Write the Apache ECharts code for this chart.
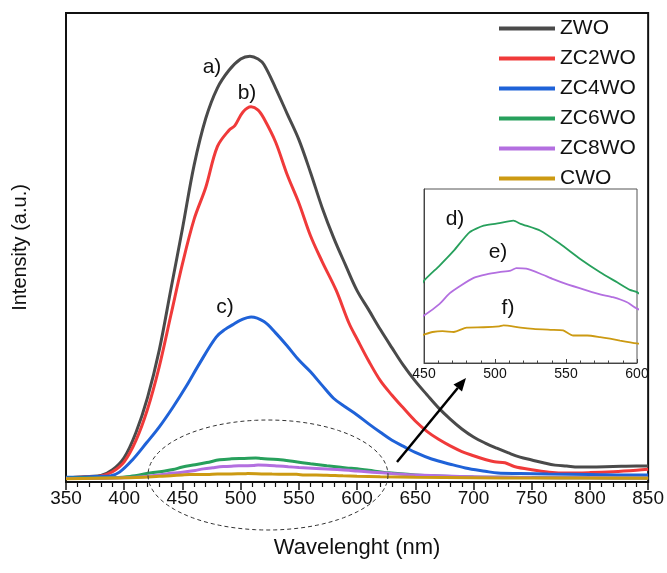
<!DOCTYPE html>
<html><head><meta charset="utf-8">
<script src="https://cdn.jsdelivr.net/npm/echarts@6/dist/echarts.min.js"></script>
<style>html,body{margin:0;padding:0;background:#fff}#c{width:667px;height:573px}</style>
</head><body><div id="c"></div>
<script>
// ---- data (wavelength nm, intensity a.u.) ----
const seriesNames = ['ZWO', 'ZC2WO', 'ZC4WO', 'ZC6WO', 'ZC8WO', 'CWO'];
const xTickValues = [350, 400, 450, 500, 550, 600, 650, 700, 750, 800, 850];
const insetTickValues = [450, 500, 550, 600];

const zwo = [[350,0.9],[360,1.0],[370,1.2],[380,1.4],[390,2.6],[400,5.2],[410,10.5],[420,18.0],[430,28.0],[440,41.0],[450,54.0],[460,67.5],[470,77.5],[480,84.0],[490,87.8],[500,90.2],[508,90.8],[515,90.2],[520,89.0],[530,84.0],[540,78.5],[550,73.0],[560,66.0],[570,58.5],[580,52.0],[590,46.3],[600,40.8],[610,36.7],[620,32.5],[630,28.6],[640,24.8],[650,21.5],[660,18.6],[670,15.8],[680,13.4],[690,11.3],[700,9.6],[710,8.3],[720,7.2],[730,6.2],[740,5.3],[750,4.7],[760,4.1],[770,3.6],[780,3.4],[790,3.2],[800,3.2],[820,3.3],[840,3.4],[850,3.4]];
const zc2wo = [[350,0.9],[360,1.0],[370,1.1],[380,1.3],[390,2.2],[400,4.3],[410,8.8],[420,15.5],[430,24.5],[440,35.5],[450,46.5],[460,56.0],[470,62.8],[480,71.5],[490,75.0],[495,76.0],[502,78.9],[509,80.0],[515,79.3],[520,77.5],[530,72.5],[540,65.5],[550,59.5],[560,52.5],[570,47.0],[582,40.9],[593,33.9],[600,30.5],[610,25.8],[620,21.6],[630,18.5],[640,15.7],[650,13.0],[660,10.8],[670,9.1],[680,7.7],[690,6.5],[700,5.6],[710,4.8],[718,4.3],[727,4.1],[735,3.3],[750,2.6],[765,2.1],[780,1.9],[800,2.0],[820,2.2],[840,2.5],[850,2.7]];
const zc4wo = [[350,1.0],[360,1.0],[370,1.1],[380,1.2],[388,1.3],[396,2.1],[407,4.7],[419,8.3],[430,11.7],[442,16.0],[453,20.3],[465,25.4],[479,30.9],[487,32.6],[493,33.5],[500,34.5],[509,35.2],[520,34.2],[530,31.8],[540,29.0],[550,26.0],[560,23.5],[570,20.6],[580,17.8],[590,16.0],[600,14.3],[610,12.4],[620,10.6],[630,8.9],[640,7.6],[650,6.3],[664,4.9],[680,3.8],[693,3.0],[710,2.3],[721,1.9],[740,1.8],[764,1.7],[800,1.6],[844,1.5],[850,1.5]];
const zc6wo = [[350,0.8],[370,0.85],[390,0.95],[405,1.2],[422,1.9],[435,2.35],[442,2.65],[450,3.2],[461,3.68],[471,4.15],[482,4.73],[492,4.94],[503,5.02],[513,5.1],[518,5.0],[532,4.78],[546,4.36],[560,3.89],[574,3.47],[586,3.15],[595,2.91],[600,2.84],[610,2.5],[627,1.95],[650,1.5],[675,1.2],[700,1.05],[750,0.95],[800,0.88],[850,0.85]];
const zc8wo = [[350,0.75],[380,0.8],[410,1.0],[430,1.5],[442,1.9],[450,2.1],[461,2.47],[468,2.8],[476,3.05],[485,3.29],[494,3.4],[503,3.47],[511,3.52],[515,3.6],[522,3.58],[532,3.42],[541,3.25],[550,3.1],[565,2.89],[574,2.77],[583,2.68],[593,2.52],[600,2.32],[613,2.1],[630,1.8],[650,1.5],[700,1.1],[750,0.95],[800,0.88],[850,0.85]];
const cwo = [[350,0.7],[400,0.9],[430,1.2],[440,1.35],[450,1.5],[456,1.58],[463,1.61],[471,1.58],[480,1.72],[492,1.73],[503,1.76],[506,1.79],[518,1.72],[527,1.68],[539,1.65],[548,1.63],[555,1.47],[565,1.47],[574,1.42],[581,1.37],[588,1.31],[600,1.22],[620,1.1],[650,1.0],[700,0.9],[750,0.85],[850,0.8]];

const allData = [zwo, zc2wo, zc4wo, zc6wo, zc8wo, cwo];
const colors = ['#4a4a4a', '#f03a3a', '#1f62d8', '#27a05c', '#b36fe0', '#cc9a12'];
const FONT = "'Liberation Sans', Arial, sans-serif";

const chart = echarts.init(document.getElementById('c'), null, {renderer: 'canvas'});

const series = allData.map((d, i) => ({
  name: seriesNames[i], type: 'line', data: d, xAxisIndex: 0, yAxisIndex: 0,
  showSymbol: false, smooth: 0.35, lineStyle: {width: 3, color: colors[i]}, itemStyle: {color: colors[i]}
}));
[3, 4, 5].forEach(i => series.push({
  name: seriesNames[i] + ' inset', type: 'line', data: allData[i], xAxisIndex: 1, yAxisIndex: 1, z: 10,
  showSymbol: false, smooth: 0.2, clip: true, lineStyle: {width: 1.8, color: colors[i]}, itemStyle: {color: colors[i]}
}));

// ellipse + arrow annotation
const ell = [];
for (let k = 0; k <= 120; k++) {
  const t = k / 120 * Math.PI * 2;
  ell.push([268 + 120 * Math.cos(t), 475 + 55 * Math.sin(t)]);
}
const ax0 = [397, 462], ax1 = [466, 378];
const dx = ax1[0] - ax0[0], dy = ax1[1] - ax0[1], L = Math.hypot(dx, dy);
const ux = dx / L, uy = dy / L, px = -uy, py = ux;
const hl = 13, hw = 5.5;
const base = [ax1[0] - ux * hl, ax1[1] - uy * hl];

function txt(s, x, y) {
  return {type: 'text', x: x, y: y, z: 100, style: {text: s, font: '21px ' + FONT, fill: '#111', align: 'center', verticalAlign: 'middle'}};
}

chart.setOption({
  animation: false,
  backgroundColor: '#fff',
  grid: [
    {left: 66, top: 13, width: 584, height: 469, show: true, borderColor: '#111', borderWidth: 2, backgroundColor: 'transparent'},
    {left: 424, top: 189, width: 213, height: 174, show: true, borderColor: '#555', borderWidth: 1, backgroundColor: '#fff'}
  ],
  legend: {
    data: seriesNames, orient: 'vertical', left: 494, top: 13, icon: 'rect', itemWidth: 56, itemHeight: 4, itemGap: 9,
    textStyle: {fontSize: 21, color: '#111', fontFamily: FONT, lineHeight: 19}
  },
  xAxis: [
    {type: 'value', gridIndex: 0, min: 350, max: 850, interval: 50,
     name: 'Wavelenght (nm)', nameLocation: 'middle', nameGap: 55,
     nameTextStyle: {fontSize: 22, color: '#111', fontFamily: FONT},
     axisLine: {show: true, lineStyle: {color: '#111', width: 2}},
     axisTick: {show: true, inside: false, length: 8, lineStyle: {color: '#111', width: 1.5}},
     minorTick: {show: true, splitNumber: 5, length: 5, lineStyle: {color: '#111', width: 1.2}},
     axisLabel: {fontSize: 19, color: '#111', fontFamily: FONT, margin: 7, customValues: xTickValues},
     splitLine: {show: false}},
    {type: 'value', gridIndex: 1, min: 450, max: 600, interval: 50,
     axisLine: {show: true, lineStyle: {color: '#444', width: 1}},
     axisTick: {show: true, inside: true, length: 4, lineStyle: {color: '#444', width: 1}},
     minorTick: {show: true, splitNumber: 5, length: 2.5, lineStyle: {color: '#444', width: 1}},
     axisLabel: {fontSize: 14, color: '#111', fontFamily: FONT, margin: 4, customValues: insetTickValues, showMinLabel: true, showMaxLabel: true},
     splitLine: {show: false}}
  ],
  yAxis: [
    {type: 'value', gridIndex: 0, min: 0, max: 100,
     name: 'Intensity (a.u.)', nameLocation: 'middle', nameGap: 36, nameRotate: 90,
     nameTextStyle: {fontSize: 20, color: '#111', fontFamily: FONT},
     axisLine: {show: true, lineStyle: {color: '#111', width: 2}},
     axisTick: {show: false}, axisLabel: {show: false}, splitLine: {show: false}},
    {type: 'value', gridIndex: 1, min: 0.6, max: 6.1,
     axisLine: {show: true, lineStyle: {color: '#444', width: 1}},
     axisTick: {show: false}, axisLabel: {show: false}, splitLine: {show: false}}
  ],
  series: series,
  graphic: [
    {type: 'polyline', z: 50, shape: {points: ell}, style: {stroke: '#333', lineWidth: 1, lineDash: [4, 3], fill: null}},
    {type: 'line', z: 50, shape: {x1: ax0[0], y1: ax0[1], x2: base[0], y2: base[1]}, style: {stroke: '#000', lineWidth: 2.5}},
    {type: 'polygon', z: 50, shape: {points: [ax1, [base[0] + px * hw, base[1] + py * hw], [base[0] - px * hw, base[1] - py * hw]]}, style: {fill: '#000'}},
    txt('a)', 212, 67), txt('b)', 247, 93), txt('c)', 225, 307),
    txt('d)', 455, 219), txt('e)', 498, 252), txt('f)', 508, 308)
  ]
});
</script>
</body></html>
